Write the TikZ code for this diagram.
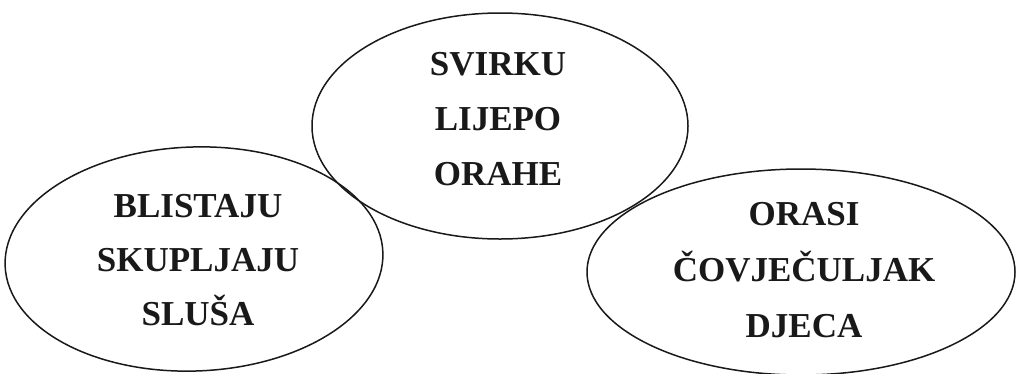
\documentclass[tikz,border=0pt]{standalone}
\usepackage{fontspec}
\setmainfont{Liberation Serif}
\usetikzlibrary{shapes.geometric}
\tikzset{
  oval/.style={draw=black!90, line width=1.5pt, shape=ellipse, inner sep=0pt},
  words/.style={align=center, inner sep=0pt, text=black!90}
}
\begin{document}
\begin{tikzpicture}[x=1pt,y=-1pt]
\useasboundingbox (0,0) rectangle (1016,373);
\node[oval, minimum width=378pt, minimum height=224pt, rotate=2] (left) at (194,259) {};
\node[oval, minimum width=376pt, minimum height=226pt] (mid) at (500,126) {};
\node[oval, minimum width=428pt, minimum height=206pt] (right) at (801,272) {};
\node[words, font=\fontsize{35}{54}\selectfont\bfseries] (ltext) at (198,260) {BLISTAJU\\SKUPLJAJU\\SLUŠA};
\node[words, font=\fontsize{35}{55}\selectfont\bfseries] (mtext) at (498,119) {SVIRKU\\LIJEPO\\ORAHE};
\node[words, font=\fontsize{35}{56}\selectfont\bfseries] (rtext) at (804,270) {ORASI\\ČOVJEČULJAK\\DJECA};
\end{tikzpicture}
\end{document}
